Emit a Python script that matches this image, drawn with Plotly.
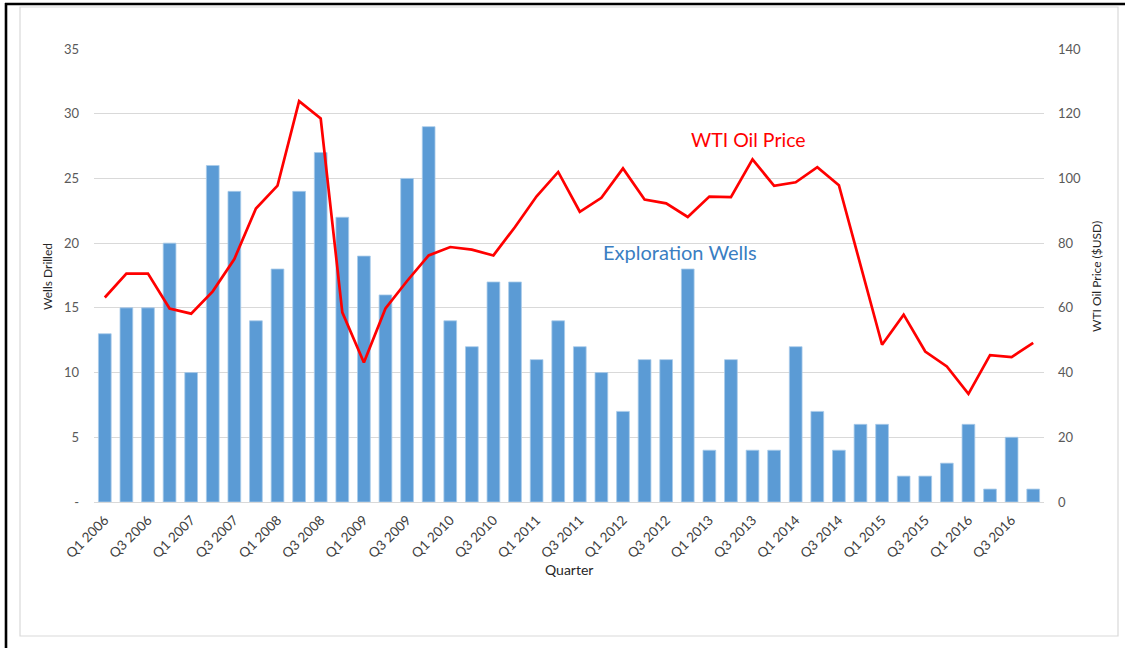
import plotly.graph_objects as go

quarters = [f"Q{q} {y}" for y in range(2006, 2017) for q in range(1, 5)]
wells = [13, 15, 15, 20, 10, 26, 24, 14, 18, 24, 27, 22, 19, 16, 25, 29,
         14, 12, 17, 17, 11, 14, 12, 10, 7, 11, 11, 18, 4, 11, 4, 4,
         12, 7, 4, 6, 6, 2, 2, 3, 6, 1, 5, 1]
wti = [63.2, 70.6, 70.6, 59.8, 58.2, 65.1, 75.1, 90.7, 97.8, 123.9, 118.5, 58.6,
       43.1, 59.8, 68.3, 76.2, 78.8, 78.0, 76.2, 85.0, 94.5, 102.0, 89.7, 94.0,
       103.1, 93.5, 92.3, 88.1, 94.4, 94.2, 105.9, 97.7, 98.8, 103.5, 97.9, 73.1,
       48.6, 57.9, 46.5, 41.9, 33.4, 45.4, 44.8, 49.2]
x_ticks = [q for q in quarters if q.startswith("Q1") or q.startswith("Q3")]
left_vals = [0, 5, 10, 15, 20, 25, 30, 35]
left_text = ["-", "5", "10", "15", "20", "25", "30", "35"]
right_vals = [0, 20, 40, 60, 80, 100, 120, 140]

FONT = "Lato, 'Open Sans', sans-serif"

fig = go.Figure()
fig.add_trace(go.Bar(x=quarters, y=wells, name="Exploration Wells",
                     marker=dict(color="#5B9BD5", line=dict(color="#A9CBEA", width=0.8)),
                     yaxis="y"))
fig.add_trace(go.Scatter(x=quarters, y=wti, name="WTI Oil Price", mode="lines",
                         line=dict(color="#FF0000", width=2.7), yaxis="y2"))

L, R, T, B = 94, 1044, 49, 502
W, H = 1125, 648
def px(x): return (x - L) / (R - L)
def py(y): return (B - y) / (B - T)

shapes = [
    dict(type="rect", xref="paper", yref="paper", x0=px(20), x1=px(1118), y0=py(636), y1=py(7),
         line=dict(color="#D9D9D9", width=1.2), layer="below"),
    dict(type="line", xref="paper", yref="paper", x0=px(6), x1=px(6), y0=py(650), y1=py(3),
         line=dict(color="#000000", width=2.6)),
    dict(type="line", xref="paper", yref="paper", x0=px(5), x1=px(1130), y0=py(4), y1=py(4),
         line=dict(color="#000000", width=2.6)),
]

def ann(text, x, y, size, color, angle=0):
    return dict(text=text, xref="paper", yref="paper", x=px(x), y=py(y),
                xanchor="center", yanchor="middle", textangle=angle,
                showarrow=False, font=dict(family=FONT, size=size, color=color))

annotations = [
    ann("WTI Oil Price", 748, 139, 19.5, "#FF0000"),
    ann("Exploration Wells", 680, 252, 20, "#3A7EC2"),
    ann("Wells Drilled", 47, 277, 12, "#262626", -90),
    ann("WTI Oil Price ($USD)", 1096, 277, 12, "#262626", -90),
    ann("Quarter", 569, 569, 14, "#262626"),
]

fig.update_layout(
    width=W, height=H,
    margin=dict(l=L, r=W - R, t=T, b=H - B, pad=0),
    paper_bgcolor="white", plot_bgcolor="white",
    showlegend=False, bargap=0.41,
    font=dict(family=FONT, size=12, color="#595959"),
    xaxis=dict(type="category", tickmode="array", tickvals=x_ticks, ticktext=x_ticks,
               tickangle=-45, showgrid=False, showline=True, linecolor="#D9D9D9", linewidth=1,
               ticks="", ticklabelstandoff=4,
               tickfont=dict(family=FONT, size=13.5, color="#404040")),
    yaxis=dict(range=[0, 35], tickmode="array", tickvals=left_vals, ticktext=left_text,
               showgrid=True, gridcolor="#D9D9D9", gridwidth=1, zeroline=False,
               ticks="", ticklabelstandoff=14, tickfont=dict(family=FONT, size=13, color="#595959")),
    yaxis2=dict(range=[0, 140], tickmode="array", tickvals=right_vals,
                overlaying="y", side="right", showgrid=False, zeroline=False,
                ticks="", ticklabelstandoff=13, tickfont=dict(family=FONT, size=13, color="#595959")),
    shapes=shapes, annotations=annotations,
)

fig.write_html("out.html", config={"displayModeBar": False},
               post_script="document.body.style.margin='0';")
